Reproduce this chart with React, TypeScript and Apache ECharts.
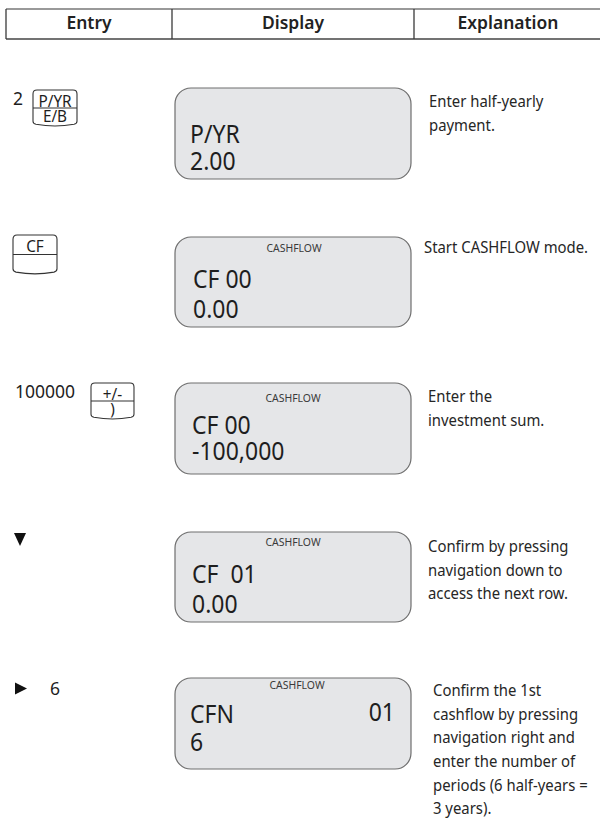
import React, { useEffect, useRef } from "react";
import * as echarts from "echarts";

// ---- content ----
const headers = ["Entry", "Display", "Explanation"];
const entryTexts = ["2", "", "100000", "", "6"];
const entryArrows = ["", "", "", "down", "right"];
const keyTopLabels = ["P/YR", "CF", "+/-", "", ""];
const keyBottomLabels = ["E/B", "", ")", "", ""];
const displayTags = ["", "CASHFLOW", "CASHFLOW", "CASHFLOW", "CASHFLOW"];
const displayLine1 = ["P/YR", "CF 00", "CF 00", "CF  01", "CFN"];
const displayLine1Right = ["", "", "", "", "01"];
const displayLine2 = ["2.00", "0.00", "-100,000", "0.00", "6"];
const explanations = [
  ["Enter half-yearly", "payment."],
  ["Start CASHFLOW mode."],
  ["Enter the", "investment sum."],
  ["Confirm by pressing", "navigation down to", "access the next row."],
  [
    "Confirm the 1st",
    "cashflow by pressing",
    "navigation right and",
    "enter the number of",
    "periods (6 half-years =",
    "3 years).",
  ],
];

// ---- layout ----
const colLines = [6, 172, 414];
const headerCenters = [89, 293, 508];
const boxTops = [88, 237, 383, 532, 678];
const boxHeights = [91, 90, 91, 90, 91];
const tagOffsets = [0, 15, 19, 14, 11];
const tagCenters = [294, 294, 293, 293, 297];
const line1Offsets = [54, 50, 50, 50, 44];
const line2Offsets = [81, 80, 76, 80, 72];
const line1X = [190, 193, 192, 192, 190];
const explX = [429, 424, 428, 428, 433];
const explFirstBase = [107, 253, 402, 552, 696];
const explStep = 23.6;
const entryTextX = [13, 0, 15, 0, 50];
const entryTextBase = [104, 0, 397, 0, 694];
const keyBoxes: (number[] | null)[] = [
  [33, 90, 44, 37],
  [13, 235, 44, 40],
  [91, 383, 43, 37],
  null,
  null,
];

const FONT = '"Noto Sans", sans-serif';

const KEY_D =
  "M4,0 L40,0 Q44,0 44,4 L44,32 Q44,34.5 41,35.2 Q22,38.6 3,35.2 Q0,34.5 0,32 L0,4 Q0,0 4,0 Z M0,18.5 L44,18.5";

let registered = false;
function ensureShape() {
  if (registered) return;
  echarts.graphic.registerShape("calcKey", echarts.graphic.extendPath(KEY_D, {}) as any);
  registered = true;
}

function T(
  text: string,
  x: number,
  base: number,
  size: number,
  o: { sx?: number; align?: string; weight?: string | number; fill?: string } = {}
): any {
  return {
    type: "text",
    x,
    y: base - size * 0.37,
    scaleX: o.sx ?? 1,
    silent: true,
    style: {
      text,
      x: 0,
      y: 0,
      font: `${o.weight ?? "normal"} ${size}px ${FONT}`,
      fill: o.fill ?? "#1e1e1e",
      align: o.align ?? "left",
      verticalAlign: "middle",
      textAlign: o.align ?? "left",
      textVerticalAlign: "middle",
    },
  };
}

function buildElements(): any[] {
  const els: any[] = [];
  const lineStyle = { stroke: "#3a3a3a", lineWidth: 1.3 };
  // header
  els.push({ type: "line", shape: { x1: 6, y1: 9, x2: 600, y2: 9 }, style: { stroke: "#777", lineWidth: 1.6 } });
  els.push({ type: "line", shape: { x1: 6, y1: 39, x2: 600, y2: 39 }, style: { stroke: "#444", lineWidth: 1.6 } });
  colLines.forEach((cx) => {
    els.push({ type: "line", shape: { x1: cx, y1: 9, x2: cx, y2: 39 }, style: lineStyle });
  });
  headers.forEach((h, i) => {
    els.push(T(h, headerCenters[i], 29, 18, { align: "center", weight: 600, fill: "#222", sx: 0.97 }));
  });

  for (let r = 0; r < boxTops.length; r++) {
    // entry key
    const kb = keyBoxes[r];
    if (kb) {
      const [kx, ky, kw, kh] = kb;
      els.push({
        type: "calcKey",
        x: kx,
        y: ky,
        scaleX: kw / 44,
        scaleY: kh / 38,
        style: { fill: "#fff", stroke: "#333", lineWidth: 1.1 },
      });
      const cx = kx + kw / 2;
      if (keyTopLabels[r]) els.push(T(keyTopLabels[r], cx, ky + 16.5, 17, { align: "center", sx: 0.9 }));
      if (keyBottomLabels[r]) els.push(T(keyBottomLabels[r], cx, ky + 32, 17, { align: "center", sx: 0.9 }));
    }
    if (entryTexts[r]) {
      els.push(T(entryTexts[r], entryTextX[r], entryTextBase[r], 17.5, { fill: "#1e1e1e" }));
    }
    if (entryArrows[r] === "down") {
      els.push({ type: "polygon", shape: { points: [[14, 533], [26, 533], [20, 546]] }, style: { fill: "#111" } });
    } else if (entryArrows[r] === "right") {
      els.push({ type: "polygon", shape: { points: [[15, 682.5], [27, 688.5], [15, 694.5]] }, style: { fill: "#111" } });
    }

    // display
    const top = boxTops[r];
    els.push({
      type: "rect",
      shape: { x: 175, y: top, width: 236, height: boxHeights[r], r: 16 },
      style: { fill: "#e5e6e8", stroke: "#6e6e6e", lineWidth: 1.2 },
    });
    if (displayTags[r]) {
      els.push(T(displayTags[r], tagCenters[r], top + tagOffsets[r], 11, { align: "center", fill: "#3a3a3a", sx: 0.95 }));
    }
    els.push(T(displayLine1[r], line1X[r], top + line1Offsets[r], 25, { sx: 0.92 }));
    if (displayLine1Right[r]) {
      els.push(T(displayLine1Right[r], 395, top + line1Offsets[r] - 2, 25, { sx: 0.92, align: "right" }));
    }
    els.push(T(displayLine2[r], line1X[r], top + line2Offsets[r], 25, { sx: 0.92 }));

    // explanation
    explanations[r].forEach((ln, j) => {
      els.push(T(ln, explX[r], explFirstBase[r] + j * explStep, 16, { sx: 0.93, fill: "#262626" }));
    });
  }
  return els;
}

export default function App() {
  const ref = useRef<HTMLDivElement>(null);
  useEffect(() => {
    if (!ref.current) return;
    ensureShape();
    const chart = echarts.init(ref.current, undefined, { renderer: "svg" });
    chart.setOption({
      animation: false,
      backgroundColor: "#ffffff",
      graphic: { elements: buildElements() },
    });
    return () => chart.dispose();
  }, []);
  return (
    <div
      ref={ref}
      style={{ position: "fixed", left: 0, top: 0, width: 600, height: 821, background: "#fff" }}
    />
  );
}
